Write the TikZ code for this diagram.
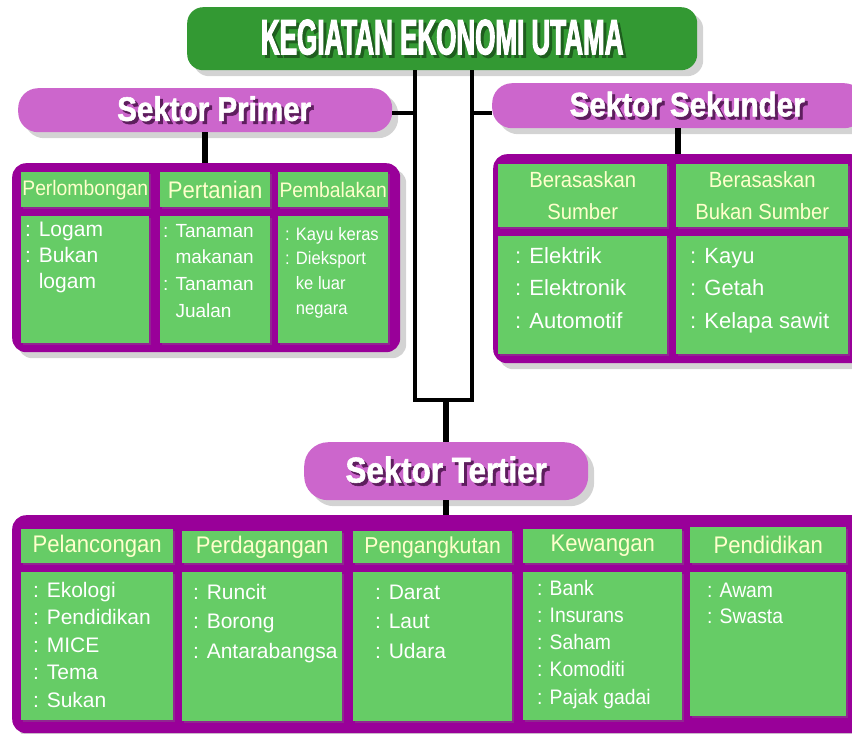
\documentclass[tikz,border=0pt]{standalone}
\usepackage{fontspec}
\setmainfont{Liberation Sans}
\newfontfamily\titlefont[FakeStretch=0.52, FakeBold=2]{Liberation Sans}
\newfontfamily\pillfont[FakeStretch=0.87, FakeBold=1.5]{Liberation Sans}
\newfontfamily\narrowfont[FakeStretch=0.92]{Liberation Sans}
\usetikzlibrary{shadows}

\definecolor{titlegreen}{HTML}{339933}
\definecolor{cellgreen}{HTML}{66CC66}
\definecolor{boxpurple}{HTML}{990099}
\definecolor{pillpink}{HTML}{CC66CC}
\definecolor{hdryellow}{HTML}{FFFFCC}
\definecolor{titleshade}{HTML}{1E5E1E}
\definecolor{pillshade}{HTML}{5E1E5E}

% text with a small drop shadow
\newcommand\shtxt[3]{\leavevmode\rlap{\kern#1\raisebox{-#1}{\textcolor{#2}{#3}}}#3}
\newcommand\titletxt[1]{\shtxt{3pt}{titleshade}{#1}}
\newcommand\pilltxt[1]{\shtxt{3pt}{pillshade}{#1}}

\begin{document}
\begin{tikzpicture}[x=1pt, y=-1pt,
    titlebox/.style={fill=titlegreen, rounded corners=16pt, inner sep=0, anchor=north west, text=white,
        drop shadow={opacity=.35, shadow xshift=6pt, shadow yshift=-6pt}},
    pill/.style={fill=pillpink, rounded corners=20pt, inner sep=0, anchor=north west, text=white,
        drop shadow={opacity=.35, shadow xshift=6pt, shadow yshift=-6pt}},
    panel/.style={fill=boxpurple, rounded corners=14pt, inner sep=0, anchor=north west,
        drop shadow={opacity=.35, shadow xshift=6pt, shadow yshift=-6pt}},
    hcell/.style={fill=cellgreen, inner sep=0, anchor=north west, text=hdryellow, align=center,
        drop shadow={opacity=.3, shadow xshift=2pt, shadow yshift=-2pt}},
    bcell/.style={fill=cellgreen, inner sep=0, anchor=north west,
        drop shadow={opacity=.3, shadow xshift=2pt, shadow yshift=-2pt}},
    item/.style={anchor=base west, inner sep=0, text=white},
    bar/.style={line width=4pt},
    stem/.style={line width=6pt}
]
\useasboundingbox (0,0) rectangle (852,734);

% title
\node[titlebox, minimum width=510, minimum height=63, font=\titlefont\bfseries\fontsize{50}{50}\selectfont] (title) at (187,7) {\titletxt{KEGIATAN EKONOMI UTAMA}};

% sektor primer
\node[pill, minimum width=374, minimum height=44, font=\pillfont\bfseries\fontsize{34}{34}\selectfont] (primer) at (18,88) {\hspace{18pt}\pilltxt{Sektor Primer}};
\node[panel, minimum width=388, minimum height=189] (primerbox) at (12,163) {};
\node[hcell, minimum width=128, minimum height=35, font=\narrowfont\fontsize{21}{24}\selectfont] (perlombongan) at (21,172) {Perlombongan};
\node[hcell, minimum width=110, minimum height=35, font=\narrowfont\fontsize{24}{26}\selectfont] (pertanian) at (160,172) {Pertanian};
\node[hcell, minimum width=110, minimum height=35, font=\narrowfont\fontsize{21}{24}\selectfont] (pembalakan) at (278,172) {Pembalakan};
\node[bcell, minimum width=128, minimum height=127] (perlombongan-b) at (21,216) {};
\node[bcell, minimum width=110, minimum height=127] (pertanian-b) at (160,216) {};
\node[bcell, minimum width=110, minimum height=127] (pembalakan-b) at (278,216) {};
\foreach \t [count=\i from 0] in {{: Logam},{: Bukan},{\phantom{: }logam}}
    \node[item, font=\fontsize{21}{24}\selectfont] (logam-\i) at (25,236+26*\i) {\t};
\foreach \t [count=\i from 0] in {{: Tanaman},{\phantom{: }makanan},{: Tanaman},{\phantom{: }Jualan}}
    \node[item, font=\fontsize{19}{22}\selectfont] (tanaman-\i) at (163,237+26.7*\i) {\t};
\foreach \t [count=\i from 0] in {{: Kayu keras},{: Dieksport},{\phantom{: }ke luar},{\phantom{: }negara}}
    \node[item, font=\narrowfont\fontsize{18}{21}\selectfont] (kayu-\i) at (285,240+24.7*\i) {\t};

% sektor sekunder
\node[pill, minimum width=372, minimum height=45, font=\pillfont\bfseries\fontsize{34}{34}\selectfont] (sekunder) at (492,83) {\hspace{18pt}\pilltxt{Sektor Sekunder}};
\node[panel, minimum width=372, minimum height=209] (sekunderbox) at (493,154) {};
\node[hcell, minimum width=169, minimum height=63, font=\narrowfont\fontsize{22}{32}\selectfont] (sumber) at (498,164) {Berasaskan\\Sumber};
\node[hcell, minimum width=172, minimum height=63, font=\narrowfont\fontsize{22}{32}\selectfont] (bukansumber) at (676,164) {Berasaskan\\Bukan Sumber};
\node[bcell, minimum width=169, minimum height=118] (sumber-b) at (498,236) {};
\node[bcell, minimum width=172, minimum height=118] (bukansumber-b) at (676,236) {};
\foreach \t [count=\i from 0] in {Elektrik, Elektronik, Automotif}
    \node[item, font=\fontsize{22}{26}\selectfont] (sumber-\i) at (515,263+32.5*\i) {: \t};
\foreach \t [count=\i from 0] in {Kayu, Getah, Kelapa sawit}
    \node[item, font=\fontsize{22}{26}\selectfont] (bukan-\i) at (690,263+32.5*\i) {: \t};

% sektor tertier
\node[pill, minimum width=284, minimum height=58, rounded corners=24pt, font=\pillfont\bfseries\fontsize{36}{36}\selectfont] (tertier) at (304,442) {\pilltxt{Sektor Tertier}};
\node[panel, minimum width=860, minimum height=218] (tertierbox) at (12,515) {};
\node[hcell, minimum width=152, minimum height=34, font=\narrowfont\fontsize{24}{26}\selectfont] (pelancongan) at (21,529) {Pelancongan};
\node[hcell, minimum width=160, minimum height=32, font=\narrowfont\fontsize{24}{26}\selectfont] (perdagangan) at (182,531) {Perdagangan};
\node[hcell, minimum width=159, minimum height=32, font=\narrowfont\fontsize{23}{26}\selectfont] (pengangkutan) at (353,531) {Pengangkutan};
\node[hcell, minimum width=159, minimum height=34, font=\narrowfont\fontsize{24}{26}\selectfont] (kewangan) at (523,529) {Kewangan};
\node[hcell, minimum width=156, minimum height=36, font=\narrowfont\fontsize{24}{26}\selectfont] (pendidikan) at (690,527) {Pendidikan};
\node[bcell, minimum width=152, minimum height=148] (pelancongan-b) at (21,572) {};
\node[bcell, minimum width=160, minimum height=149] (perdagangan-b) at (182,572) {};
\node[bcell, minimum width=159, minimum height=149] (pengangkutan-b) at (353,572) {};
\node[bcell, minimum width=159, minimum height=148] (kewangan-b) at (523,572) {};
\node[bcell, minimum width=156, minimum height=144] (pendidikan-b) at (690,572) {};
\foreach \t [count=\i from 0] in {Ekologi, Pendidikan, MICE, Tema, Sukan}
    \node[item, font=\fontsize{21}{24}\selectfont] (pel-\i) at (33,597+27.5*\i) {: \t};
\foreach \t [count=\i from 0] in {Runcit, Borong, Antarabangsa}
    \node[item, font=\fontsize{21}{24}\selectfont] (per-\i) at (193,599+29.5*\i) {: \t};
\foreach \t [count=\i from 0] in {Darat, Laut, Udara}
    \node[item, font=\fontsize{21}{24}\selectfont] (pen-\i) at (375,599+29.5*\i) {: \t};
\foreach \t [count=\i from 0] in {Bank, Insurans, Saham, Komoditi, Pajak gadai}
    \node[item, font=\narrowfont\fontsize{21}{24}\selectfont] (kew-\i) at (537,595+27.3*\i) {: \t};
\foreach \t [count=\i from 0] in {Awam, Swasta}
    \node[item, font=\narrowfont\fontsize{21}{24}\selectfont] (pdk-\i) at (707,597+26*\i) {: \t};

% connectors
\coordinate (lbar) at (415,400);
\coordinate (rbar) at (472,400);
\draw[bar] (title.south -| lbar) -- (lbar) -- (rbar) -- (title.south -| rbar);
\draw[bar] ([yshift=-3pt]primer.east) -- ([yshift=-3pt]primer.east -| lbar);
\draw[bar] ([yshift=-7pt]sekunder.west) -- ([yshift=-7pt]sekunder.west -| rbar);
\draw[stem] (primer.south) -- (primer.south |- primerbox.north);
\draw[stem] (sekunder.south) -- (sekunder.south |- sekunderbox.north);
\draw[stem] (tertier.north |- lbar) -- (tertier.north);
\draw[stem] (tertier.south) -- (tertier.south |- tertierbox.north);

\end{tikzpicture}
\end{document}
